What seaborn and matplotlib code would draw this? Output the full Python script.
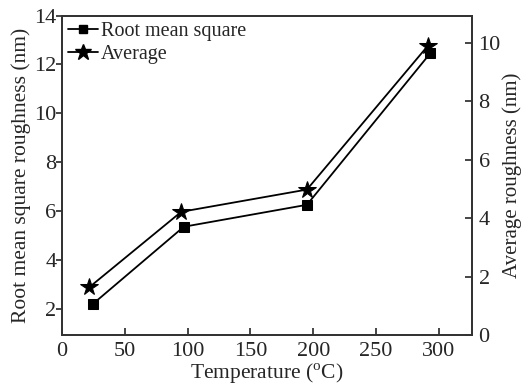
import numpy as np
import pandas as pd
import seaborn as sns
from matplotlib import pyplot as plt
from matplotlib.lines import Line2D

temp_rms = [25, 97, 195, 293]
rms = [2.2, 5.35, 6.25, 12.45]
temp_avg = [22, 95, 195, 291]
avg = [1.65, 4.22, 4.98, 9.88]

sns.set_style('ticks')
plt.rcParams['font.family'] = ['Liberation Serif', 'DejaVu Serif']
plt.rcParams['mathtext.fontset'] = 'custom'
plt.rcParams['mathtext.rm'] = 'Liberation Serif'

rms_df = pd.DataFrame({'temp': temp_rms, 'val': rms})
avg_df = pd.DataFrame({'temp': temp_avg, 'val': avg})

fig, ax = plt.subplots(figsize=(5.24, 3.9), dpi=100)
ax2 = ax.twinx()

sns.lineplot(data=rms_df, x='temp', y='val', ax=ax, color='black', lw=1.3,
             marker='s', markersize=6.5, markeredgecolor='black')
sns.lineplot(data=avg_df, x='temp', y='val', ax=ax2, color='black', lw=1.3,
             marker='*', markersize=13, markeredgecolor='black')

ax.set_xlim(0, 326)
ax.set_ylim(0.9, 14)
ax2.set_ylim(0, 10.92)
ax.set_xticks([0, 50, 100, 150, 200, 250, 300])
ax.set_yticks([2, 4, 6, 8, 10, 12, 14])
ax2.set_yticks([0, 2, 4, 6, 8, 10])

lab = 15.5
tck = 16
ax.set_xlabel('Temperature ($^\\mathrm{o}$C)', labelpad=0, fontsize=lab)
ax.set_ylabel('Root mean square roughness (nm)', labelpad=2, fontsize=lab)
ax2.set_ylabel('Average roughness (nm)', labelpad=1, fontsize=15)

ax.tick_params(axis='x', direction='in', length=5, width=1.2, pad=5, labelsize=tck)
ax.tick_params(axis='y', direction='out', length=4, width=1.2, pad=0, labelsize=tck)
ax2.tick_params(axis='y', direction='in', length=5, width=1.2, pad=5, labelsize=tck)

for a in (ax, ax2):
    for s in a.spines.values():
        s.set_visible(True)
        s.set_color('#333333')
        s.set_linewidth(1.3)

handles = [
    Line2D([], [], color='black', lw=1.3, marker='s', markersize=6),
    Line2D([], [], color='black', lw=1.3, marker='*', markersize=12),
]
ax.legend(handles, ['Root mean square', 'Average'], loc='upper left',
          frameon=False, handlelength=1.5, handletextpad=0.15,
          borderaxespad=0.1, borderpad=0.2, labelspacing=0.2, fontsize=14.5)

fig.subplots_adjust(left=0.118, right=0.9, top=0.96, bottom=0.14)
fig.savefig('out.png', dpi=100)
